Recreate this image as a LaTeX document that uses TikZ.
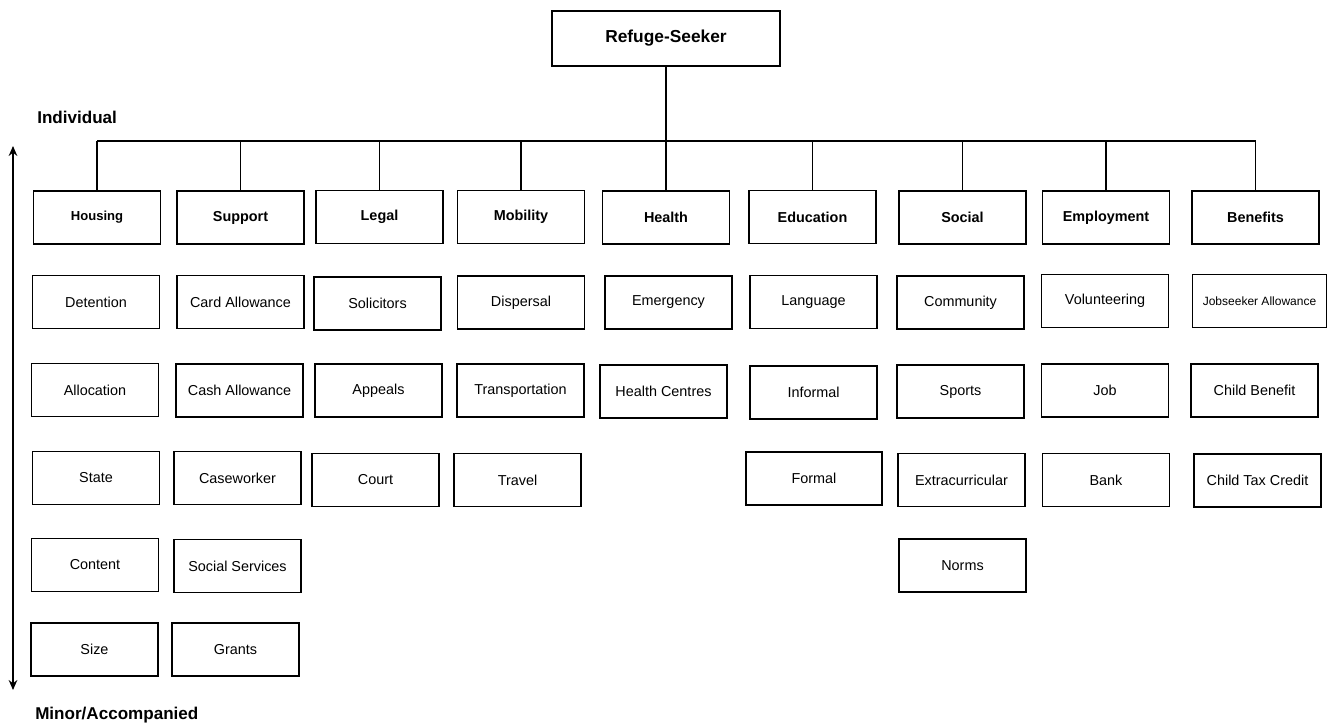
\documentclass[tikz,border=0pt]{standalone}
\usepackage{fontspec}
\setmainfont{Liberation Sans}
\usetikzlibrary{arrows.meta}
\tikzset{
  box/.style={draw, line width=0.9pt, minimum width=95.25pt, minimum height=39.75pt, inner sep=1pt, font=\fontsize{10.8}{12}\selectfont},
  head/.style={box, font=\fontsize{10.8}{12}\selectfont\bfseries},
  link/.style={line width=0.9pt},
  side/.style={anchor=west, inner sep=0pt, font=\fontsize{12.8}{14}\selectfont\bfseries}
}
\begin{document}
\begin{tikzpicture}[x=0.75pt,y=-0.75pt]
\useasboundingbox (0,0) rectangle (1328,724);

 \node[head, minimum width=171pt, minimum height=41.25pt, font=\fontsize{13}{15}\selectfont\bfseries] at (666, 38.5) (root) {Refuge-Seeker};
 \node[side] at (37, 117) (indiv) {Individual};
 \node[side] at (35, 715) (minor) {Minor/Accompanied};
 \coordinate (bus) at (0, 141);
 \coordinate (up) at (13, 146);
 \coordinate (down) at (13, 690);

 % headers
 \node[head, font=\fontsize{9.8}{12}\selectfont\bfseries] at (97, 217.5) (housing) {Housing};
 \node[head] at (240.5, 217.5) (support) {Support};
 \node[head] at (379.5, 217) (legal) {Legal};
 \node[head] at (521, 217) (mobility) {Mobility};
 \node[head] at (666, 217.5) (health) {Health};
 \node[head] at (812.5, 217) (education) {Education};
 \node[head] at (962.5, 217.5) (social) {Social};
 \node[head] at (1106, 217.5) (employment) {Employment};
 \node[head] at (1255.5, 217.5) (benefits) {Benefits};

 % housing
 \node[box] at (96, 302) (detention) {Detention};
 \node[box] at (95, 390) (allocation) {Allocation};
 \node[box] at (96, 478) (state) {State};
 \node[box] at (95, 565) (content) {Content};
 \node[box] at (94.5, 649.5) (size) {Size};
 % support
 \node[box] at (240.5, 302) (card) {Card Allowance};
 \node[box] at (239.5, 390.5) (cash) {Cash Allowance};
 \node[box] at (237.5, 478) (caseworker) {Caseworker};
 \node[box] at (237.5, 566) (services) {Social Services};
 \node[box] at (235.5, 649.5) (grants) {Grants};
 % legal
 \node[box] at (377.5, 303.5) (solicitors) {Solicitors};
 \node[box] at (378.5, 390.5) (appeals) {Appeals};
 \node[box] at (375.5, 480) (court) {Court};
 % mobility
 \node[box] at (521, 302.5) (dispersal) {Dispersal};
 \node[box] at (520.5, 390.5) (transport) {Transportation};
 \node[box] at (517.5, 480) (travel) {Travel};
 % health
 \node[box] at (668.5, 302.5) (emergency) {Emergency};
 \node[box] at (663.5, 391.5) (centres) {Health Centres};
 % education
 \node[box] at (813.5, 302) (language) {Language};
 \node[box] at (813.5, 392.5) (informal) {Informal};
 \node[box, minimum width=102pt] at (814, 478.5) (formal) {Formal};
 % social
 \node[box] at (960.5, 302.5) (community) {Community};
 \node[box] at (960.5, 391.5) (sports) {Sports};
 \node[box] at (961.5, 480) (extra) {Extracurricular};
 \node[box] at (962.5, 565.5) (norms) {Norms};
 % employment
 \node[box] at (1105, 301) (volunteering) {Volunteering};
 \node[box] at (1105, 390.5) (job) {Job};
 \node[box] at (1106, 480) (bank) {Bank};
 % benefits
 \node[box, minimum width=101pt, font=\fontsize{9}{11}\selectfont] at (1259.5, 301) (jobseeker) {Jobseeker Allowance};
 \node[box] at (1254.5, 390.5) (childbenefit) {Child Benefit};
 \node[box] at (1257.5, 480.5) (childtax) {Child Tax Credit};

 % connectors
 \draw[link] (root) -- (health);
 \draw[link] (housing.north |- bus) -- (benefits.north |- bus);
 \draw[link] (housing) -- (housing.north |- bus);
 \draw[link] (support) -- (support.north |- bus);
 \draw[link] (legal) -- (legal.north |- bus);
 \draw[link] (mobility) -- (mobility.north |- bus);
 \draw[link] (education) -- (education.north |- bus);
 \draw[link] (social) -- (social.north |- bus);
 \draw[link] (employment) -- (employment.north |- bus);
 \draw[link] (benefits) -- (benefits.north |- bus);
 \draw[line width=1pt,{Stealth[length=7.5pt,width=6.5pt]}-{Stealth[length=7.5pt,width=6.5pt]}] (up) -- (down);
\end{tikzpicture}
\end{document}
